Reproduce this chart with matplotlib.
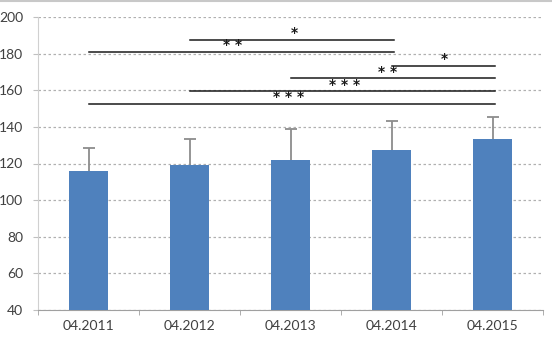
import numpy as np
import matplotlib
matplotlib.use("Agg")
from matplotlib import pyplot as plt
from matplotlib.lines import Line2D

# data
periods = ["04.2011", "04.2012", "04.2013", "04.2014", "04.2015"]
means = [116, 119, 122, 127.5, 133.5]
sd_up = [12.5, 14.5, 17, 15.5, 12]

# significance brackets: (from, to, height, label, label x)
sig_from = [1, 0, 3, 2, 1, 0]
sig_to = [3, 3, 4, 4, 4, 4]
sig_y = [187.5, 181, 173.5, 166.5, 159.5, 152.5]
sig_lab = ["*", "**", "*", "**", "***", "***"]
sig_lx = [2.04, 1.43, 3.52, 2.96, 2.54, 1.98]

plt.rcParams['font.family'] = ['Lato', 'DejaVu Sans']

fig = plt.figure(figsize=(5.52, 3.49), dpi=100)
ax = fig.add_axes([38/552, 1-310/349, (543-38)/552, (310-17)/349])

x = np.arange(len(periods))
tops = np.array(means) + np.array(sd_up)
ax.bar(x, np.array(means) - 40, bottom=40, width=0.39, color="#4F81BD", zorder=3)
ax.vlines(x, means, tops, color="#8c8c8c", lw=1.3, zorder=4)
ax.plot(x, tops, ls="none", marker="_", ms=8, mew=1.3, color="#8c8c8c", zorder=4)

for a, b, y, lab, lx in zip(sig_from, sig_to, sig_y, sig_lab, sig_lx):
    ax.plot([a, b + 0.02], [y, y], color="#1a1a1a", lw=1.1, zorder=5)
    ax.text(lx, y + 3.6, " ".join(lab), ha="center", va="center",
            fontsize=10, fontweight="bold", family="DejaVu Sans",
            color="#1a1a1a", zorder=5)

ax.set_xlim(-0.5, 4.5)
ax.set_ylim(40, 200)
ax.set_yticks(np.arange(40, 201, 20))
ax.set_xticks(x)
ax.set_xticklabels(periods)
ax.set_xticks(np.arange(-0.5, 4.6, 1), minor=True)
ax.tick_params(axis="x", which="major", length=0, pad=7, labelsize=10, colors="#404040")
ax.tick_params(axis="x", which="minor", length=3.6, color="#a0a0a0", direction="out")
ax.tick_params(axis="y", length=3.6, color="#c0c0c0", labelsize=10, colors="#404040", pad=7)

ax.grid(axis="y", color="#b0b0b0", ls=(0, (2, 2)), lw=0.9, zorder=0)
for s in ["top", "right"]:
    ax.spines[s].set_visible(False)
ax.spines["left"].set_color("#d0d0d0")
ax.spines["bottom"].set_color("#a0a0a0")

fig.add_artist(Line2D([0, 1], [0.997, 0.997], color="#c8c8c8", lw=1.5, transform=fig.transFigure))

fig.savefig("out.png", dpi=100)
